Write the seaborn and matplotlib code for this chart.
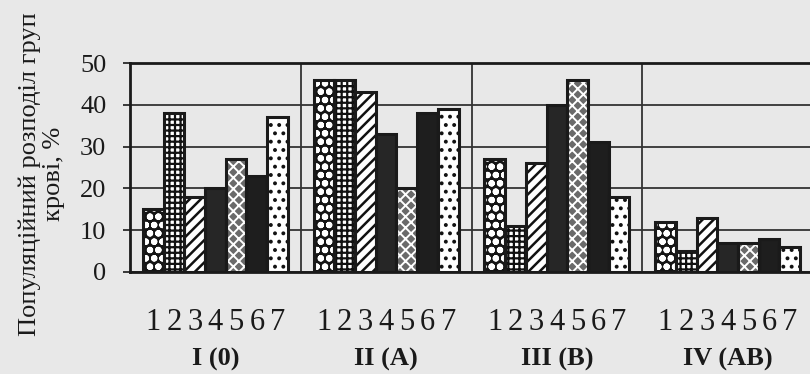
import numpy as np
import pandas as pd
import matplotlib
matplotlib.use("Agg")
import matplotlib.pyplot as plt
from matplotlib.patches import Rectangle
import seaborn as sns

# blood groups and the 7 sub-populations inside each
groups = ["I (0)", "II (A)", "III (B)", "IV (AB)"]
subgroups = ["1", "2", "3", "4", "5", "6", "7"]

vals_I = [15, 38, 18, 20, 27, 23, 37]
vals_II = [46, 46, 43, 33, 20, 38, 39]
vals_III = [27, 11, 26, 40, 46, 31, 18]
vals_IV = [12, 5, 13, 7, 7, 8, 6]

yticks = [0, 10, 20, 30, 40, 50]
ylabel = "Популяційний розподіл груп\nкрові, %"

rows = []
for g, vals in zip(groups, [vals_I, vals_II, vals_III, vals_IV]):
    for s, v in zip(subgroups, vals):
        rows.append({"group": g, "sub": s, "value": v})
df = pd.DataFrame(rows)

# (face, hatch, hatch colour, hatch width) per sub-population
styles = [
    ("#151515", "oo", "white", 2.2),
    ("white", "+++", "#111111", 1.6),
    ("white", "///", "#111111", 1.8),
    ("#262626", "", "#262626", 1.0),
    ("#6a6a6a", "xxx", "white", 1.4),
    ("#1e1e1e", "", "#1e1e1e", 1.0),
    ("white", "..", "#111111", 1.6),
]

bg = "#e8e8e8"
ink = "#1a1a1a"

sns.set_style("white")
plt.rcParams["font.family"] = ["Liberation Serif", "DejaVu Serif"]
plt.rcParams["hatch.linewidth"] = 1.6

fig = plt.figure(figsize=(8.1, 3.74), dpi=100, facecolor=bg)
ax = fig.add_axes([130 / 810, 102 / 374, 683 / 810, 209 / 374])
ax.set_facecolor(bg)

sns.barplot(data=df, x="group", y="value", hue="sub", width=0.85,
            legend=False, ax=ax, saturation=1, errorbar=None)

centers = []
for cont, sub, (face, hatch, hcol, hw) in zip(ax.containers, subgroups, styles):
    for p in cont:
        p.set_facecolor(face)
        p.set_hatch(hatch)
        p.set_edgecolor(hcol)
        p.set_linewidth(0)
        if hasattr(p, "set_hatch_linewidth"):
            p.set_hatch_linewidth(hw)
        ax.add_patch(Rectangle((p.get_x(), 0), p.get_width(), p.get_height(),
                               fill=False, edgecolor=ink, lw=2.2, zorder=3))
        centers.append((p.get_x() + p.get_width() / 2, sub))

ax.set_xlim(-0.5, len(groups) - 0.5)
ax.set_ylim(0, 50)
ax.set_yticks(yticks)
ax.tick_params(axis="y", labelsize=19, colors=ink, length=5, width=1.2,
               pad=12, direction="out", left=True)
ax.yaxis.grid(True, color="#333333", lw=1.3)
ax.set_axisbelow(True)

# group separators
for b in np.arange(len(groups) - 1) + 0.5:
    ax.axvline(b, color="#333333", lw=1.3, zorder=1)

# sub-population numbers as minor ticks, group names as major ticks
ax.xaxis.remove_overlapping_locs = False
ax.set_xticks(range(len(groups)))
ax.set_xticklabels(groups, fontweight="bold", fontsize=19)
ax.set_xticks([c for c, _ in centers], minor=True)
ax.set_xticklabels([lab for _, lab in centers], minor=True, fontsize=22)
ax.tick_params(axis="x", which="major", length=0, pad=55, colors=ink)
ax.tick_params(axis="x", which="minor", length=0, pad=26, colors=ink)
ax.set_xlabel("")

for side in ["top", "bottom", "left"]:
    ax.spines[side].set_color(ink)
    ax.spines[side].set_linewidth(2)
ax.spines["right"].set_visible(False)

ax.set_ylabel(ylabel, fontsize=19, color=ink, linespacing=1.15)
ax.yaxis.set_label_coords(-0.095, 0.47)

fig.savefig("out.png", dpi=100, facecolor=bg)
